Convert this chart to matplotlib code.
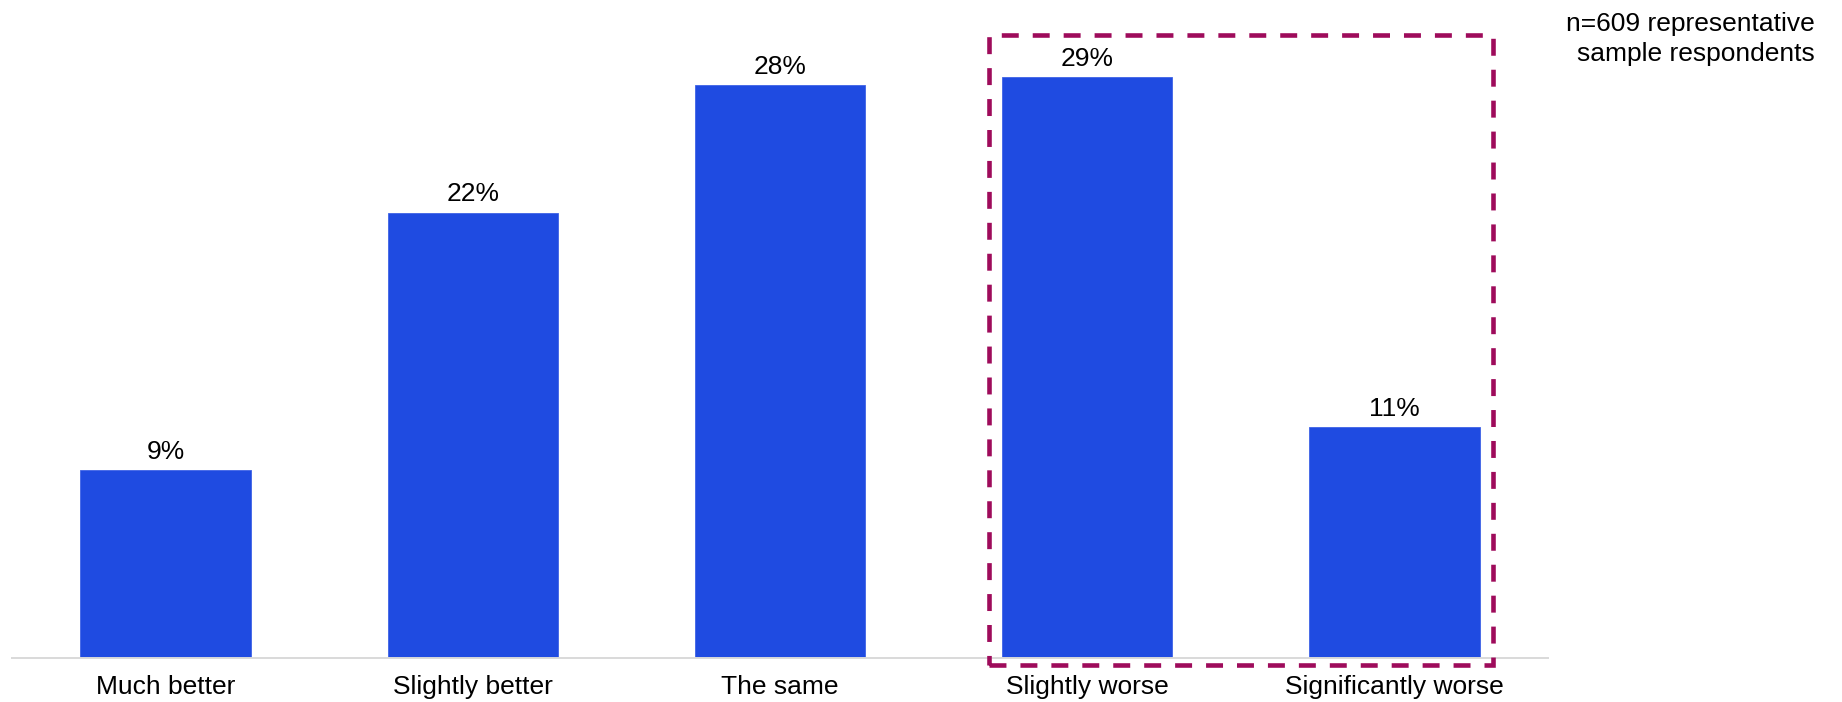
import matplotlib
matplotlib.use("Agg")
import matplotlib.pyplot as plt
from matplotlib.patches import Rectangle

categories = ["Much better", "Slightly better", "The same", "Slightly worse", "Significantly worse"]
values = [9.3, 22.0, 28.3, 28.7, 11.4]
value_labels = ["9%", "22%", "28%", "29%", "11%"]
note = "n=609 representative\nsample respondents"
highlight = [3, 4]  # indices of highlighted categories

plt.rcParams['font.family'] = ['Liberation Sans', 'DejaVu Sans']

W, H = 1842, 702
fig = plt.figure(figsize=(W / 100, H / 100), dpi=100)
ax = fig.add_axes([12 / W, 44 / H, 1536 / W, 648 / H])

bar_color = "#1F4BE1"
box_color = "#9E0B5B"
bw = 0.555

x = list(range(len(categories)))
bars = ax.bar(x, values, width=bw, color=bar_color, edgecolor="#3E63E6", linewidth=0.6)

for xi, v, lab in zip(x, values, value_labels):
    ax.annotate(lab, (xi, v), xytext=(0, 8), textcoords="offset points",
                ha="center", va="baseline", fontsize=19, color="#000000")

ax.set_xlim(-0.5, 4.5)
ax.set_ylim(0, 32)
ax.set_xticks(x)
ax.set_xticklabels(categories, fontsize=19)
ax.tick_params(axis="x", length=0, pad=12)
ax.set_yticks([])
for s in ["top", "left", "right"]:
    ax.spines[s].set_visible(False)
ax.spines["bottom"].set_color("#D9D9D9")
ax.spines["bottom"].set_linewidth(1.4)

# dashed highlight box around selected bars
pad_x = 0.043
x0 = min(highlight) - bw / 2 - pad_x
x1 = max(highlight) + bw / 2 + pad_x
y0 = -0.35
y1 = 30.77
rect = Rectangle((x0, y0), x1 - x0, y1 - y0, fill=False, edgecolor=box_color,
                 linewidth=3.3, linestyle=(0, (3.7, 3.05)), clip_on=False, zorder=5)
ax.add_patch(rect)

fig.text(1815 / W, 1 - 12 / H, note, ha="right", va="top", fontsize=19,
         multialignment="right", linespacing=1.32, color="#000000")

fig.savefig("out.png", dpi=100, facecolor="white")
